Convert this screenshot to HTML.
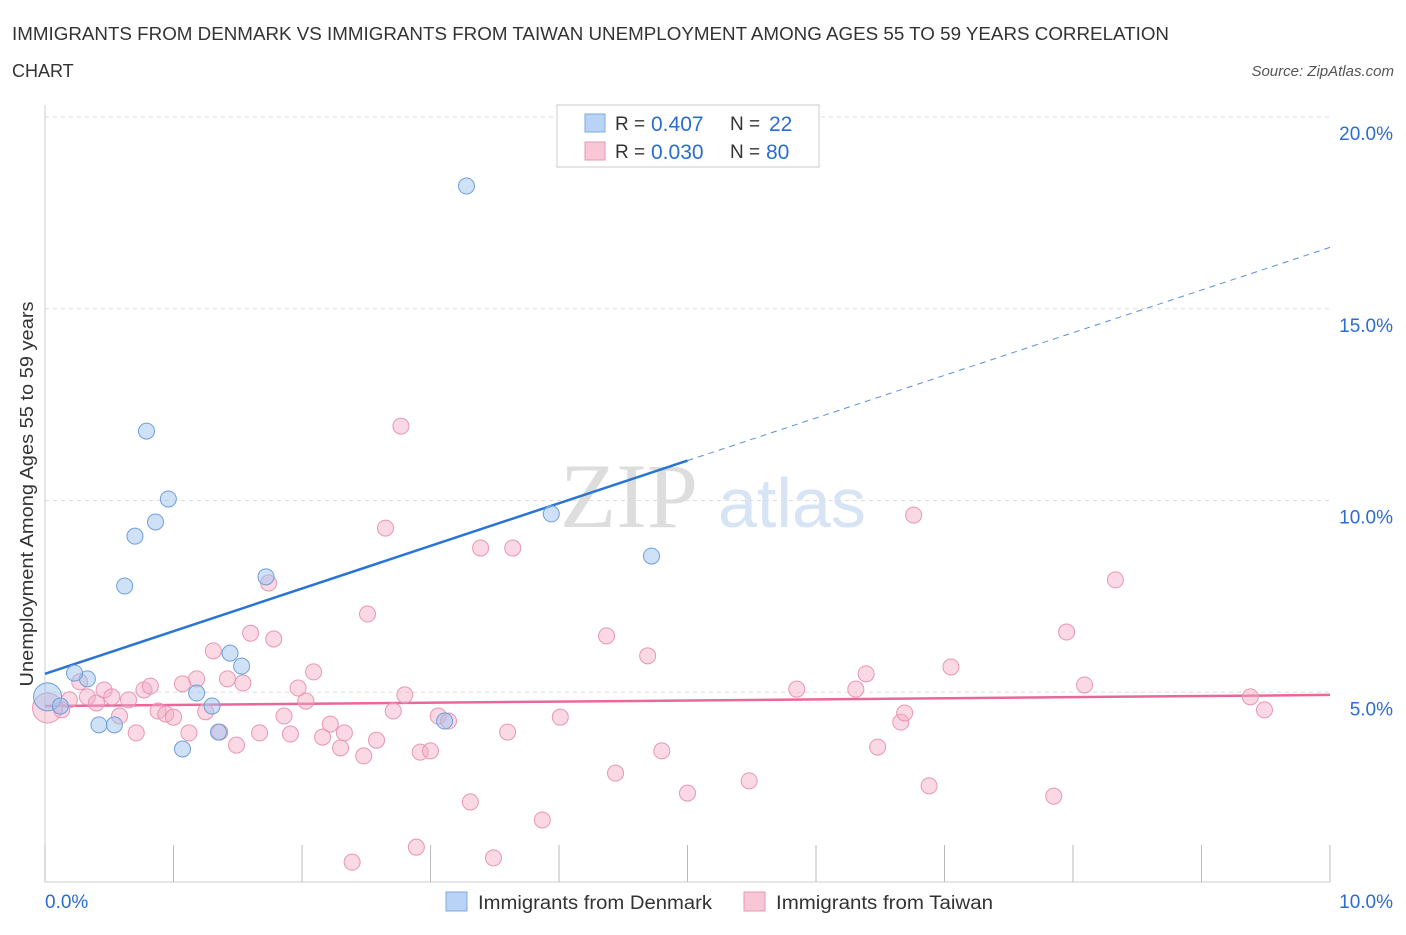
<!DOCTYPE html>
<html><head><meta charset="utf-8"><style>
body{margin:0;background:#fff;font-family:"Liberation Sans",sans-serif;}
</style></head><body>
<svg width="1406" height="930" xmlns="http://www.w3.org/2000/svg" id="chart">
<text x="12" y="40" font-size="18" fill="#333" textLength="1157" lengthAdjust="spacingAndGlyphs">IMMIGRANTS FROM DENMARK VS IMMIGRANTS FROM TAIWAN UNEMPLOYMENT AMONG AGES 55 TO 59 YEARS CORRELATION</text>
<text x="12" y="77" font-size="18" fill="#333">CHART</text>
<text x="1394" y="76" font-size="15" fill="#555" font-style="italic" text-anchor="end">Source: ZipAtlas.com</text>
<text x="560" y="527" font-size="92" fill="#ddd" font-family="Liberation Serif,serif">ZIP</text>
<text x="718" y="527" font-size="70" fill="#d6e4f5">atlas</text>
<g id="grid"></g><g id="axes"></g><g id="trends"></g><g id="points"></g>
<text transform="translate(33,494) rotate(-90)" font-size="18" fill="#333" text-anchor="middle" textLength="385" lengthAdjust="spacingAndGlyphs">Unemployment Among Ages 55 to 59 years</text>
<g>
<rect x="557" y="105" width="262" height="62" fill="#fff" stroke="#ccc"/>
<rect x="585" y="114" width="20" height="18" fill="#b8d3f5" stroke="#7fa8dd"/>
<text x="615" y="130" font-size="19" fill="#333">R =</text>
<text x="651" y="131" font-size="21" fill="#2a6dd0">0.407</text>
<text x="730" y="130" font-size="19" fill="#333">N =</text>
<text x="769" y="131" font-size="21" fill="#2a6dd0">22</text>
<rect x="585" y="142" width="20" height="18" fill="#f8c6d6" stroke="#e898b2"/>
<text x="615" y="158" font-size="19" fill="#333">R =</text>
<text x="651" y="159" font-size="21" fill="#2a6dd0">0.030</text>
<text x="730" y="158" font-size="19" fill="#333">N =</text>
<text x="766" y="159" font-size="21" fill="#2a6dd0">80</text>
</g>
<g>
<rect x="446" y="892" width="21" height="19" fill="#b8d3f5" stroke="#7fa8dd"/>
<text x="478" y="909" font-size="19" fill="#333" textLength="234" lengthAdjust="spacingAndGlyphs">Immigrants from Denmark</text>
<rect x="744" y="892" width="21" height="19" fill="#f8c6d6" stroke="#e898b2"/>
<text x="776" y="909" font-size="19" fill="#333" textLength="217" lengthAdjust="spacingAndGlyphs">Immigrants from Taiwan</text>
</g>
</svg>
<script>
const yTicks=[5,10,15,20];
const yTickLabels=["5.0%","10.0%","15.0%","20.0%"];
const xTickLabels=["0.0%","10.0%"];
const blueX=[0.02,0.12,0.33,0.23,0.42,0.54,0.62,0.70,0.79,0.86,0.96,1.07,1.18,1.30,1.35,1.44,1.53,1.72,3.11,3.28,3.94,4.72];
const blueY=[4.88,4.64,5.35,5.50,4.15,4.15,7.77,9.07,11.81,9.44,10.04,3.52,4.98,4.64,3.96,6.02,5.68,8.01,4.25,18.20,9.65,8.55];
const pinkX=[0.02,0.13,0.19,0.27,0.33,0.40,0.46,0.52,0.58,0.65,0.71,0.77,0.82,0.88,0.94,1.00,1.07,1.12,1.18,1.25,1.31,1.36,1.42,1.49,1.54,1.60,1.67,1.78,1.74,1.86,1.91,1.97,2.03,2.09,2.16,2.22,2.30,2.33,2.48,2.51,2.58,2.65,2.71,2.77,2.80,2.89,2.92,3.00,3.06,3.14,3.31,3.39,3.49,3.60,3.64,3.87,4.01,4.37,4.44,4.69,4.80,5.00,5.48,5.85,6.31,6.39,6.48,6.66,6.69,6.76,6.88,7.05,7.85,7.95,8.09,8.33,9.38,9.49,2.39];
const pinkY=[4.59,4.54,4.80,5.27,4.88,4.72,5.06,4.88,4.38,4.80,3.94,5.06,5.16,4.51,4.43,4.35,5.22,3.94,5.35,4.49,6.08,3.96,5.35,3.62,5.24,6.54,3.94,6.39,7.85,4.38,3.91,5.11,4.77,5.53,3.83,4.17,3.55,3.94,3.34,7.04,3.75,9.28,4.51,11.94,4.93,0.96,3.44,3.47,4.38,4.25,2.14,8.76,0.68,3.96,8.76,1.67,4.35,6.47,2.89,5.95,3.47,2.37,2.69,5.08,5.08,5.48,3.57,4.22,4.46,9.62,2.56,5.66,2.29,6.57,5.19,7.93,4.88,4.54,0.57];
const blueTrend=[5.48,16.6];
const pinkTrend=[4.64,4.93];
const NS="http://www.w3.org/2000/svg";
const X=v=>45+v*128.5, Y=v=>884-v*38.35;
function mk(t,a,p){const e=document.createElementNS(NS,t);for(const k in a)e.setAttribute(k,a[k]);document.getElementById(p).appendChild(e);return e;}
yTicks.forEach((t,i)=>{
 const g=mk('line',{x1:45,x2:1330,y1:Y(t),y2:Y(t),stroke:'#ddd','stroke-dasharray':'4,4'},'grid');
 
 
 const l=mk('text',{x:1393,y:Y(t)+23,'font-size':19,fill:'#2a6dd0','text-anchor':'end'},'grid');l.textContent=yTickLabels[i];
 
 
});
const ax=mk('line',{x1:45,x2:1330,y1:882,y2:882,stroke:'#ccc'},'axes');


const ay=mk('line',{x1:45,x2:45,y1:105,y2:882,stroke:'#ccc'},'axes');


for(let i=0;i<=10;i++){const t=mk('line',{x1:X(i),x2:X(i),y1:845,y2:882,stroke:'#bbb'},'axes');
 
 }
[[0,45,'start'],[1,1393,'end']].forEach(([i,x,a])=>{const l=mk('text',{x:x,y:908,'font-size':19,fill:'#2a6dd0','text-anchor':a},'axes');l.textContent=xTickLabels[i];
 
 });
const bs=(blueTrend[1]-blueTrend[0])/10, bx=5.0;
const b1=mk('line',{x1:X(0),y1:Y(blueTrend[0]),x2:X(bx),y2:Y(blueTrend[0]+bs*bx),stroke:'#2a74d6','stroke-width':2.5},'trends');


const b2=mk('line',{x1:X(bx),y1:Y(blueTrend[0]+bs*bx),x2:X(10),y2:Y(blueTrend[1]),stroke:'#5a90d8','stroke-width':1,'stroke-dasharray':'6,5'},'trends');


const p1=mk('line',{x1:X(0),y1:Y(pinkTrend[0]),x2:X(10),y2:Y(pinkTrend[1]),stroke:'#e8689a','stroke-width':2.5},'trends');


pinkX.forEach((x,i)=>{const c=mk('circle',{cx:X(x),cy:Y(pinkY[i]),r:i==0?15:8,fill:'rgba(245,170,195,0.45)',stroke:'#e896b2','stroke-width':1},'points');
 
 });
blueX.forEach((x,i)=>{const c=mk('circle',{cx:X(x),cy:Y(blueY[i]),r:i==0?14:8,fill:'rgba(160,195,240,0.5)',stroke:'#6f9fd8','stroke-width':1},'points');
 
 });
</script>
</body></html>
